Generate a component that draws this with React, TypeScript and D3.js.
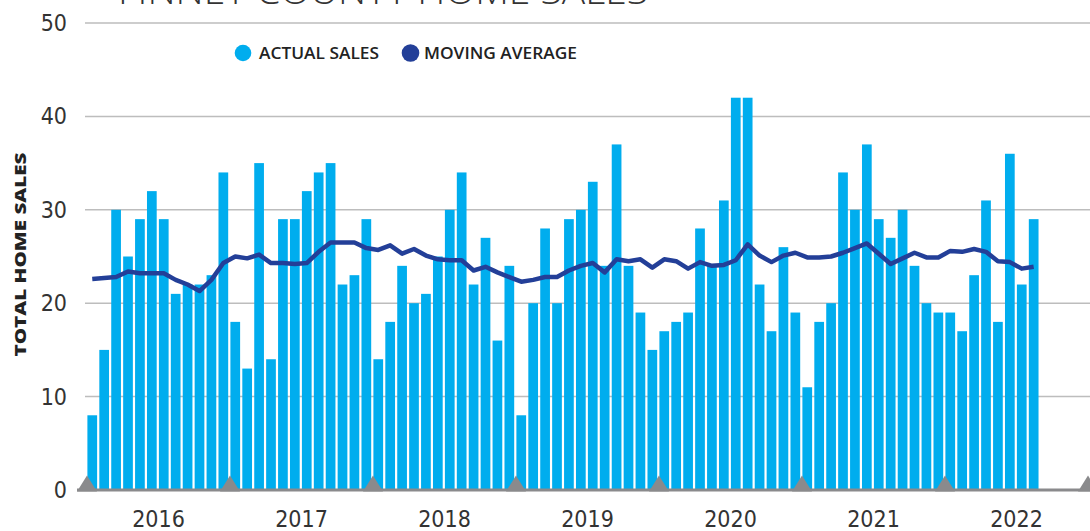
import React from "react";
import * as d3 from "d3";

const years = ["2016", "2017", "2018", "2019", "2020", "2021", "2022"];
const actualSales = [
  8, 15, 30, 25, 29, 32, 29, 21, 22, 22, 23, 34,
  18, 13, 35, 14, 29, 29, 32, 34, 35, 22, 23, 29,
  14, 18, 24, 20, 21, 25, 30, 34, 22, 27, 16, 24,
  8, 20, 28, 20, 29, 30, 33, 24, 37, 24, 19, 15,
  17, 18, 19, 28, 24, 31, 42, 42, 22, 17, 26, 19,
  11, 18, 20, 34, 30, 37, 29, 27, 30, 24, 20, 19,
  19, 17, 23, 31, 18, 36, 22, 29,
];
const movingAverage = [
  22.6, 22.7, 22.8, 23.4, 23.2, 23.2, 23.2, 22.5, 22.0, 21.3, 22.5, 24.3,
  25.0, 24.8, 25.2, 24.3, 24.3, 24.2, 24.3, 25.5, 26.5, 26.5, 26.5, 25.9,
  25.7, 26.2, 25.3, 25.8, 25.1, 24.7, 24.6, 24.6, 23.5, 23.9, 23.3, 22.8,
  22.3, 22.5, 22.8, 22.8, 23.5, 24.0, 24.3, 23.3, 24.7, 24.5, 24.7, 23.8,
  24.7, 24.5, 23.7, 24.4, 24.0, 24.1, 24.6, 26.3, 25.1, 24.4, 25.1, 25.4,
  24.9, 24.9, 25.0, 25.4, 25.9, 26.4, 25.3, 24.2, 24.8, 25.4, 24.9, 24.9,
  25.6, 25.5, 25.8, 25.5, 24.5, 24.4, 23.7, 23.9,
];
const yTicks = [0, 10, 20, 30, 40, 50];
const legendItems = ["ACTUAL SALES", "MOVING AVERAGE"];

const W = 1090;
const H = 531;
const CYAN = "#00adee";
const NAVY = "#233f98";
const NARROW = "'Liberation Sans Narrow', 'DejaVu Sans Condensed', 'Roboto', sans-serif";
const BOLD = "'Open Sans', 'Noto Sans', sans-serif";

export default function App() {
  const x = d3.scaleLinear().domain([0, 12]).range([87, 230]);
  const y = d3.scaleLinear().domain([0, 50]).range([490, 23]);
  const step = x(1) - x(0);
  const bw = step * 0.815;
  const off = 0.4;

  const line = d3
    .line<number>()
    .x((_, i) => x(i) + off + bw / 2)
    .y((d) => y(d))
    .curve(d3.curveLinear);

  const boundaries = d3.range(0, years.length + 1).map((k) => k * 12);

  return (
    <div style={{ position: "absolute", left: 0, top: 0 }}>
      <svg width={W} height={H} style={{ display: "block", background: "#fff" }}>
        {/* title (cut off at top) */}
        <text
          x={118}
          y={4}
          fontFamily={BOLD}
          fontWeight={300}
          fontSize={36}
          fill="#333"
          textLength={530}
          lengthAdjust="spacingAndGlyphs"
        >
          FINNEY COUNTY HOME SALES
        </text>

        {/* gridlines */}
        {yTicks
          .filter((t) => t > 0)
          .map((t) => (
            <line key={t} x1={85} x2={W} y1={y(t)} y2={y(t)} stroke="#bdbdbd" strokeWidth={1.5} />
          ))}

        {/* y tick labels */}
        {yTicks.map((t) => (
          <text
            key={t}
            x={67}
            y={y(t) + 8}
            textAnchor="end"
            fontFamily={NARROW}
            fontSize={23}
            fill="#333"
          >
            {t}
          </text>
        ))}

        {/* y axis title */}
        <text
          transform={`translate(26,254.5) rotate(-90)`}
          textAnchor="middle"
          fontFamily={BOLD}
          fontWeight={800}
          fontSize={16}
          fill="#222"
          textLength={204}
          lengthAdjust="spacingAndGlyphs"
        >
          TOTAL HOME SALES
        </text>

        {/* legend */}
        <circle cx={243} cy={53} r={8.3} fill={CYAN} />
        <text
          x={259}
          y={59}
          fontFamily={BOLD}
          fontWeight={600}
          fontSize={15.5}
          fill="#222"
          textLength={120}
          lengthAdjust="spacingAndGlyphs"
        >
          {legendItems[0]}
        </text>
        <circle cx={410.5} cy={53} r={8.8} fill={NAVY} />
        <text
          x={424}
          y={59}
          fontFamily={BOLD}
          fontWeight={600}
          fontSize={15.5}
          fill="#222"
          textLength={153}
          lengthAdjust="spacingAndGlyphs"
        >
          {legendItems[1]}
        </text>

        {/* bars */}
        {actualSales.map((v, i) => (
          <rect key={i} x={x(i) + off} y={y(v)} width={bw} height={y(0) - y(v)} fill={CYAN} />
        ))}

        {/* baseline */}
        <line x1={77} x2={W} y1={y(0)} y2={y(0)} stroke="#8a8a8c" strokeWidth={3} />

        {/* year boundary triangles */}
        {boundaries.map((b) => {
          const cx = x(b);
          const by = y(0) + 1.5;
          return (
            <path
              key={b}
              d={`M${cx - 10},${by} L${cx},${by - 16} L${cx + 10},${by} Z`}
              fill="#8a8a8c"
            />
          );
        })}

        {/* moving average */}
        <path
          d={line(movingAverage) || ""}
          fill="none"
          stroke={NAVY}
          strokeWidth={4.5}
          strokeLinejoin="round"
        />

        {/* year labels */}
        {years.map((yr, k) => (
          <text
            key={yr}
            x={(x(k * 12) + x(k * 12 + 12)) / 2}
            y={527}
            textAnchor="middle"
            fontFamily={NARROW}
            fontSize={23}
            fill="#333"
          >
            {yr}
          </text>
        ))}
      </svg>
    </div>
  );
}
